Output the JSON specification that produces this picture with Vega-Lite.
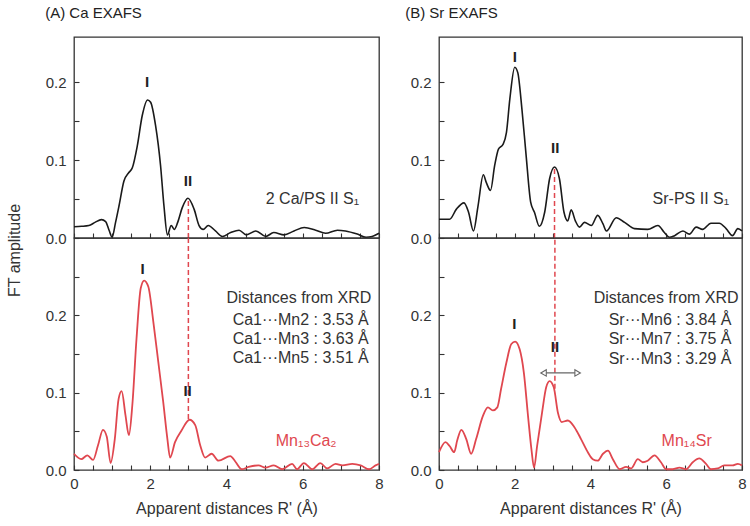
{
  "$schema": "https://vega.github.io/schema/vega-lite/v6.json",
  "padding": 5,
  "spacing": 20,
  "datasets": {
    "caS1": [
      {"r":0,"a":0.0145},{"r":0.2,"a":0.015},{"r":0.39,"a":0.016},{"r":0.55,"a":0.02},{"r":0.72,"a":0.0235},{"r":0.83,"a":0.021},{"r":0.92,"a":0.01},{"r":1.0,"a":0.001},{"r":1.09,"a":0.02},{"r":1.18,"a":0.041},{"r":1.31,"a":0.073},{"r":1.44,"a":0.084},{"r":1.53,"a":0.09},{"r":1.66,"a":0.118},{"r":1.79,"a":0.157},{"r":1.93,"a":0.177},{"r":2.01,"a":0.174},{"r":2.14,"a":0.144},{"r":2.27,"a":0.093},{"r":2.36,"a":0.041},{"r":2.45,"a":0.004},{"r":2.55,"a":0.016},{"r":2.63,"a":0.011},{"r":2.72,"a":0.02},{"r":2.84,"a":0.039},{"r":2.99,"a":0.051},{"r":3.15,"a":0.037},{"r":3.28,"a":0.016},{"r":3.39,"a":0.011},{"r":3.52,"a":0.016},{"r":3.71,"a":0.009},{"r":3.89,"a":0.002},{"r":4.11,"a":0.007},{"r":4.33,"a":0.01},{"r":4.52,"a":0.004},{"r":4.77,"a":0.009},{"r":5.03,"a":0.002},{"r":5.24,"a":0.007},{"r":5.51,"a":0.004},{"r":5.77,"a":0.009},{"r":6.04,"a":0.0135},{"r":6.34,"a":0.01},{"r":6.6,"a":0.006},{"r":6.91,"a":0.01},{"r":7.12,"a":0.009},{"r":7.43,"a":0.005},{"r":7.66,"a":0.001},{"r":7.82,"a":0.002},{"r":8.0,"a":0.006}
    ],
    "caMn": [
      {"r":0,"a":0.021},{"r":0.19,"a":0.014},{"r":0.35,"a":0.019},{"r":0.5,"a":0.013},{"r":0.63,"a":0.032},{"r":0.76,"a":0.052},{"r":0.86,"a":0.043},{"r":0.96,"a":0.009},{"r":1.07,"a":0.04},{"r":1.17,"a":0.092},{"r":1.25,"a":0.102},{"r":1.35,"a":0.071},{"r":1.44,"a":0.045},{"r":1.53,"a":0.084},{"r":1.64,"a":0.17},{"r":1.75,"a":0.235},{"r":1.84,"a":0.245},{"r":1.95,"a":0.237},{"r":2.08,"a":0.192},{"r":2.21,"a":0.14},{"r":2.34,"a":0.088},{"r":2.45,"a":0.04},{"r":2.52,"a":0.016},{"r":2.65,"a":0.036},{"r":2.82,"a":0.051},{"r":3.03,"a":0.065},{"r":3.18,"a":0.058},{"r":3.31,"a":0.032},{"r":3.44,"a":0.016},{"r":3.61,"a":0.021},{"r":3.79,"a":0.012},{"r":4.1,"a":0.018},{"r":4.23,"a":0.011},{"r":4.4,"a":0.001},{"r":4.58,"a":0.004},{"r":4.84,"a":0.006},{"r":5.02,"a":0.003},{"r":5.24,"a":0.006},{"r":5.46,"a":0.001},{"r":5.72,"a":0.008},{"r":5.85,"a":0.001},{"r":6.03,"a":0.009},{"r":6.25,"a":0.001},{"r":6.46,"a":0.009},{"r":6.64,"a":0.002},{"r":6.86,"a":0.008},{"r":7.04,"a":0.006},{"r":7.3,"a":0.008},{"r":7.52,"a":0.006},{"r":7.74,"a":0.001},{"r":7.91,"a":0.006},{"r":8.0,"a":0.008}
    ],
    "srS1": [
      {"r":0,"a":0.024},{"r":0.28,"a":0.024},{"r":0.46,"a":0.037},{"r":0.66,"a":0.045},{"r":0.78,"a":0.033},{"r":0.91,"a":0.009},{"r":1.03,"a":0.041},{"r":1.17,"a":0.081},{"r":1.25,"a":0.071},{"r":1.36,"a":0.061},{"r":1.47,"a":0.093},{"r":1.57,"a":0.114},{"r":1.69,"a":0.12},{"r":1.78,"a":0.135},{"r":1.87,"a":0.178},{"r":2.0,"a":0.219},{"r":2.08,"a":0.212},{"r":2.19,"a":0.165},{"r":2.3,"a":0.106},{"r":2.42,"a":0.046},{"r":2.52,"a":0.033},{"r":2.65,"a":0.015},{"r":2.79,"a":0.033},{"r":2.92,"a":0.076},{"r":3.05,"a":0.091},{"r":3.18,"a":0.076},{"r":3.3,"a":0.033},{"r":3.4,"a":0.022},{"r":3.49,"a":0.036},{"r":3.6,"a":0.022},{"r":3.71,"a":0.014},{"r":3.84,"a":0.02},{"r":4.02,"a":0.016},{"r":4.19,"a":0.029},{"r":4.33,"a":0.018},{"r":4.42,"a":0.009},{"r":4.68,"a":0.026},{"r":4.9,"a":0.02},{"r":5.16,"a":0.012},{"r":5.51,"a":0.011},{"r":5.78,"a":0.016},{"r":5.95,"a":0.007},{"r":6.08,"a":0.001},{"r":6.22,"a":0.003},{"r":6.44,"a":0.009},{"r":6.61,"a":0.005},{"r":6.79,"a":0.014},{"r":6.96,"a":0.011},{"r":7.18,"a":0.019},{"r":7.4,"a":0.019},{"r":7.58,"a":0.012},{"r":7.75,"a":0.003},{"r":7.89,"a":0.012},{"r":8.0,"a":0.009}
    ],
    "srMn": [
      {"r":0,"a":0.023},{"r":0.17,"a":0.036},{"r":0.28,"a":0.031},{"r":0.4,"a":0.023},{"r":0.48,"a":0.038},{"r":0.59,"a":0.052},{"r":0.72,"a":0.04},{"r":0.85,"a":0.021},{"r":0.98,"a":0.04},{"r":1.16,"a":0.07},{"r":1.29,"a":0.081},{"r":1.42,"a":0.077},{"r":1.54,"a":0.081},{"r":1.64,"a":0.105},{"r":1.78,"a":0.139},{"r":1.91,"a":0.163},{"r":2.01,"a":0.166},{"r":2.13,"a":0.156},{"r":2.24,"a":0.126},{"r":2.35,"a":0.07},{"r":2.44,"a":0.027},{"r":2.51,"a":0.003},{"r":2.59,"a":0.031},{"r":2.72,"a":0.074},{"r":2.83,"a":0.107},{"r":2.92,"a":0.115},{"r":3.03,"a":0.107},{"r":3.14,"a":0.074},{"r":3.24,"a":0.062},{"r":3.4,"a":0.064},{"r":3.58,"a":0.055},{"r":3.75,"a":0.04},{"r":3.93,"a":0.023},{"r":4.06,"a":0.014},{"r":4.19,"a":0.012},{"r":4.33,"a":0.021},{"r":4.46,"a":0.025},{"r":4.59,"a":0.014},{"r":4.77,"a":0.001},{"r":4.94,"a":0.004},{"r":5.07,"a":0.002},{"r":5.25,"a":0.014},{"r":5.38,"a":0.01},{"r":5.51,"a":0.012},{"r":5.69,"a":0.019},{"r":5.86,"a":0.01},{"r":6.0,"a":0.001},{"r":6.17,"a":0.001},{"r":6.35,"a":0.003},{"r":6.52,"a":0.001},{"r":6.7,"a":0.01},{"r":6.87,"a":0.015},{"r":7.05,"a":0.008},{"r":7.18,"a":0.001},{"r":7.36,"a":0.002},{"r":7.53,"a":0.006},{"r":7.75,"a":0.006},{"r":7.89,"a":0.008},{"r":8.0,"a":0.006}
    ]
  },
  "hconcat": [
    {
      "spacing": 0,
      "bounds": "flush",
      "vconcat": [
        {
          "width": 305, "height": 201,
          "title": {"text": "(A) Ca EXAFS", "anchor": "start", "offset": 16, "fontSize": 15, "font": "Liberation Sans", "fontWeight": "normal", "color": "#222"},
          "encoding": {
            "x": {"field": "r", "type": "quantitative", "scale": {"domain": [0, 8], "nice": false},
              "axis": {"title": null, "labels": false, "values": [0,0.5,1,1.5,2,2.5,3,3.5,4,4.5,5,5.5,6,6.5,7,7.5,8], "tickSize": -5}},
            "y": {"field": "a", "type": "quantitative", "scale": {"domain": [0, 0.2577], "nice": false},
              "axis": {"title": null, "values": [0,0.05,0.1,0.15,0.2], "labelExpr": "round(datum.value*20) % 2 == 0 ? format(datum.value,'.1f') : ''", "tickSize": -5, "labelPadding": 13}}
          },
          "layer": [
            {"data": {"name": "caS1"}, "mark": {"type": "line", "color": "#1a1a1a", "strokeWidth": 1.6, "interpolate": "monotone"}},
            {"data": {"values": [{"r": 3.0, "a": 0, "a2": 0.051}]}, "mark": {"type": "rule", "color": "#e0474f", "strokeWidth": 1.5, "strokeDash": [5, 3]}, "encoding": {"y2": {"field": "a2"}}},
            {"data": {"values": [{"r": 1.92, "a": 0.2, "t": "I"}, {"r": 2.99, "a": 0.0735, "t": "II"}]}, "mark": {"type": "text", "fontWeight": "bold", "fontSize": 15, "color": "#222", "baseline": "middle"}, "encoding": {"text": {"field": "t"}}},
            {"data": {"values": [{"r": 7.48, "a": 0.05, "t": "2 Ca/PS II S₁"}]}, "mark": {"type": "text", "fontSize": 16, "color": "#333", "align": "right", "baseline": "middle"}, "encoding": {"text": {"field": "t"}}}
          ]
        },
        {
          "width": 305, "height": 232,
          "encoding": {
            "x": {"field": "r", "type": "quantitative", "scale": {"domain": [0, 8], "nice": false},
              "axis": {"title": "Apparent distances R' (Å)", "values": [0,0.5,1,1.5,2,2.5,3,3.5,4,4.5,5,5.5,6,6.5,7,7.5,8], "labelExpr": "round(datum.value*2) % 4 == 0 ? format(datum.value,'d') : ''", "tickSize": -5, "labelPadding": 11, "titlePadding": 9}},
            "y": {"field": "a", "type": "quantitative", "scale": {"domain": [0, 0.3], "nice": false},
              "axis": {"title": "FT amplitude", "titleY": 12, "titlePadding": 23, "values": [0,0.05,0.1,0.15,0.2,0.25], "labelExpr": "round(datum.value*20) % 2 == 0 ? format(datum.value,'.1f') : ''", "tickSize": -5, "labelPadding": 13}}
          },
          "layer": [
            {"data": {"name": "caMn"}, "mark": {"type": "line", "color": "#e0474f", "strokeWidth": 1.8, "interpolate": "monotone"}},
            {"data": {"values": [{"r": 3.0, "a": 0.066, "a2": 0.3}]}, "mark": {"type": "rule", "color": "#e0474f", "strokeWidth": 1.5, "strokeDash": [5, 3]}, "encoding": {"y2": {"field": "a2"}}},
            {"data": {"values": [{"r": 1.8, "a": 0.26, "t": "I"}, {"r": 2.98, "a": 0.1026, "t": "II"}]}, "mark": {"type": "text", "fontWeight": "bold", "fontSize": 15, "color": "#222", "baseline": "middle"}, "encoding": {"text": {"field": "t"}}},
            {"data": {"values": [{"r": 7.8, "a": 0.222, "t": "Distances from XRD"}, {"r": 7.73, "a": 0.194, "t": "Ca1···Mn2 : 3.53 Å"}, {"r": 7.73, "a": 0.1695, "t": "Ca1···Mn3 : 3.63 Å"}, {"r": 7.73, "a": 0.1445, "t": "Ca1···Mn5 : 3.51 Å"}]}, "mark": {"type": "text", "fontSize": 16, "color": "#333", "align": "right", "baseline": "middle"}, "encoding": {"text": {"field": "t"}}},
            {"data": {"values": [{"r": 6.09, "a": 0.038, "t": "Mn₁₃Ca₂"}]}, "mark": {"type": "text", "fontSize": 16, "color": "#e0474f", "align": "center", "baseline": "middle"}, "encoding": {"text": {"field": "t"}}}
          ]
        }
      ]
    },
    {
      "spacing": 0,
      "bounds": "flush",
      "vconcat": [
        {
          "width": 303, "height": 201,
          "title": {"text": "(B) Sr EXAFS", "anchor": "start", "offset": 16, "dx": -5, "fontSize": 15, "font": "Liberation Sans", "fontWeight": "normal", "color": "#222"},
          "encoding": {
            "x": {"field": "r", "type": "quantitative", "scale": {"domain": [0, 8], "nice": false},
              "axis": {"title": null, "labels": false, "values": [0,0.5,1,1.5,2,2.5,3,3.5,4,4.5,5,5.5,6,6.5,7,7.5,8], "tickSize": -5}},
            "y": {"field": "a", "type": "quantitative", "scale": {"domain": [0, 0.2577], "nice": false},
              "axis": {"title": null, "values": [0,0.05,0.1,0.15,0.2], "labelExpr": "round(datum.value*20) % 2 == 0 ? format(datum.value,'.1f') : ''", "tickSize": -5, "labelPadding": 13}}
          },
          "layer": [
            {"data": {"name": "srS1"}, "mark": {"type": "line", "color": "#1a1a1a", "strokeWidth": 1.6, "interpolate": "monotone"}},
            {"data": {"values": [{"r": 3.05, "a": 0, "a2": 0.09}]}, "mark": {"type": "rule", "color": "#e0474f", "strokeWidth": 1.5, "strokeDash": [5, 3]}, "encoding": {"y2": {"field": "a2"}}},
            {"data": {"values": [{"r": 2.0, "a": 0.2317, "t": "I"}, {"r": 3.07, "a": 0.115, "t": "II"}]}, "mark": {"type": "text", "fontWeight": "bold", "fontSize": 15, "color": "#222", "baseline": "middle"}, "encoding": {"text": {"field": "t"}}},
            {"data": {"values": [{"r": 7.66, "a": 0.05, "t": "Sr-PS II S₁"}]}, "mark": {"type": "text", "fontSize": 16, "color": "#333", "align": "right", "baseline": "middle"}, "encoding": {"text": {"field": "t"}}}
          ]
        },
        {
          "width": 303, "height": 232,
          "encoding": {
            "x": {"field": "r", "type": "quantitative", "scale": {"domain": [0, 8], "nice": false},
              "axis": {"title": "Apparent distances R' (Å)", "values": [0,0.5,1,1.5,2,2.5,3,3.5,4,4.5,5,5.5,6,6.5,7,7.5,8], "labelExpr": "round(datum.value*2) % 4 == 0 ? format(datum.value,'d') : ''", "tickSize": -5, "labelPadding": 11, "titlePadding": 9}},
            "y": {"field": "a", "type": "quantitative", "scale": {"domain": [0, 0.3], "nice": false},
              "axis": {"title": null, "values": [0,0.05,0.1,0.15,0.2,0.25], "labelExpr": "round(datum.value*20) % 2 == 0 ? format(datum.value,'.1f') : ''", "tickSize": -5, "labelPadding": 13}}
          },
          "layer": [
            {"data": {"name": "srMn"}, "mark": {"type": "line", "color": "#e0474f", "strokeWidth": 1.8, "interpolate": "monotone"}},
            {"data": {"values": [{"r": 3.06, "a": 0.105, "a2": 0.3}]}, "mark": {"type": "rule", "color": "#e0474f", "strokeWidth": 1.5, "strokeDash": [5, 3]}, "encoding": {"y2": {"field": "a2"}}},
            {"data": {"values": [{"r": 2.7, "a": 0.1255, "r2": 3.72}]}, "mark": {"type": "rule", "color": "#666", "strokeWidth": 1.2}, "encoding": {"x2": {"field": "r2"}}},
            {"data": {"values": [{"r": 2.76, "a": 0.1255, "s": "triangle-left"}, {"r": 3.66, "a": 0.1255, "s": "triangle-right"}]}, "mark": {"type": "point", "filled": true, "fill": "white", "stroke": "#666", "strokeWidth": 1.1, "size": 40, "opacity": 1}, "encoding": {"shape": {"field": "s", "type": "nominal", "scale": null, "legend": null}}},
            {"data": {"values": [{"r": 1.99, "a": 0.189, "t": "I"}, {"r": 3.06, "a": 0.159, "t": "II"}]}, "mark": {"type": "text", "fontWeight": "bold", "fontSize": 15, "color": "#222", "baseline": "middle"}, "encoding": {"text": {"field": "t"}}},
            {"data": {"values": [{"r": 7.91, "a": 0.222, "t": "Distances from XRD"}, {"r": 7.72, "a": 0.194, "t": "Sr···Mn6 : 3.84 Å"}, {"r": 7.72, "a": 0.1695, "t": "Sr···Mn7 : 3.75 Å"}, {"r": 7.72, "a": 0.1436, "t": "Sr···Mn3 : 3.29 Å"}]}, "mark": {"type": "text", "fontSize": 16, "color": "#333", "align": "right", "baseline": "middle"}, "encoding": {"text": {"field": "t"}}},
            {"data": {"values": [{"r": 6.54, "a": 0.038, "t": "Mn₁₄Sr"}]}, "mark": {"type": "text", "fontSize": 16, "color": "#e0474f", "align": "center", "baseline": "middle"}, "encoding": {"text": {"field": "t"}}}
          ]
        }
      ]
    }
  ],
  "config": {
    "font": "Liberation Sans",
    "view": {"stroke": "#333", "strokeWidth": 1.3},
    "axis": {"labelFont": "Liberation Sans", "labelFontSize": 15, "labelColor": "#333", "titleFont": "Liberation Sans", "titleFontSize": 16, "titleFontWeight": "normal", "titleColor": "#333", "tickColor": "#333", "tickWidth": 1.1, "grid": false, "domain": false, "labelOverlap": false, "labelFlush": false},
    "text": {"font": "Liberation Sans"}
  }
}
